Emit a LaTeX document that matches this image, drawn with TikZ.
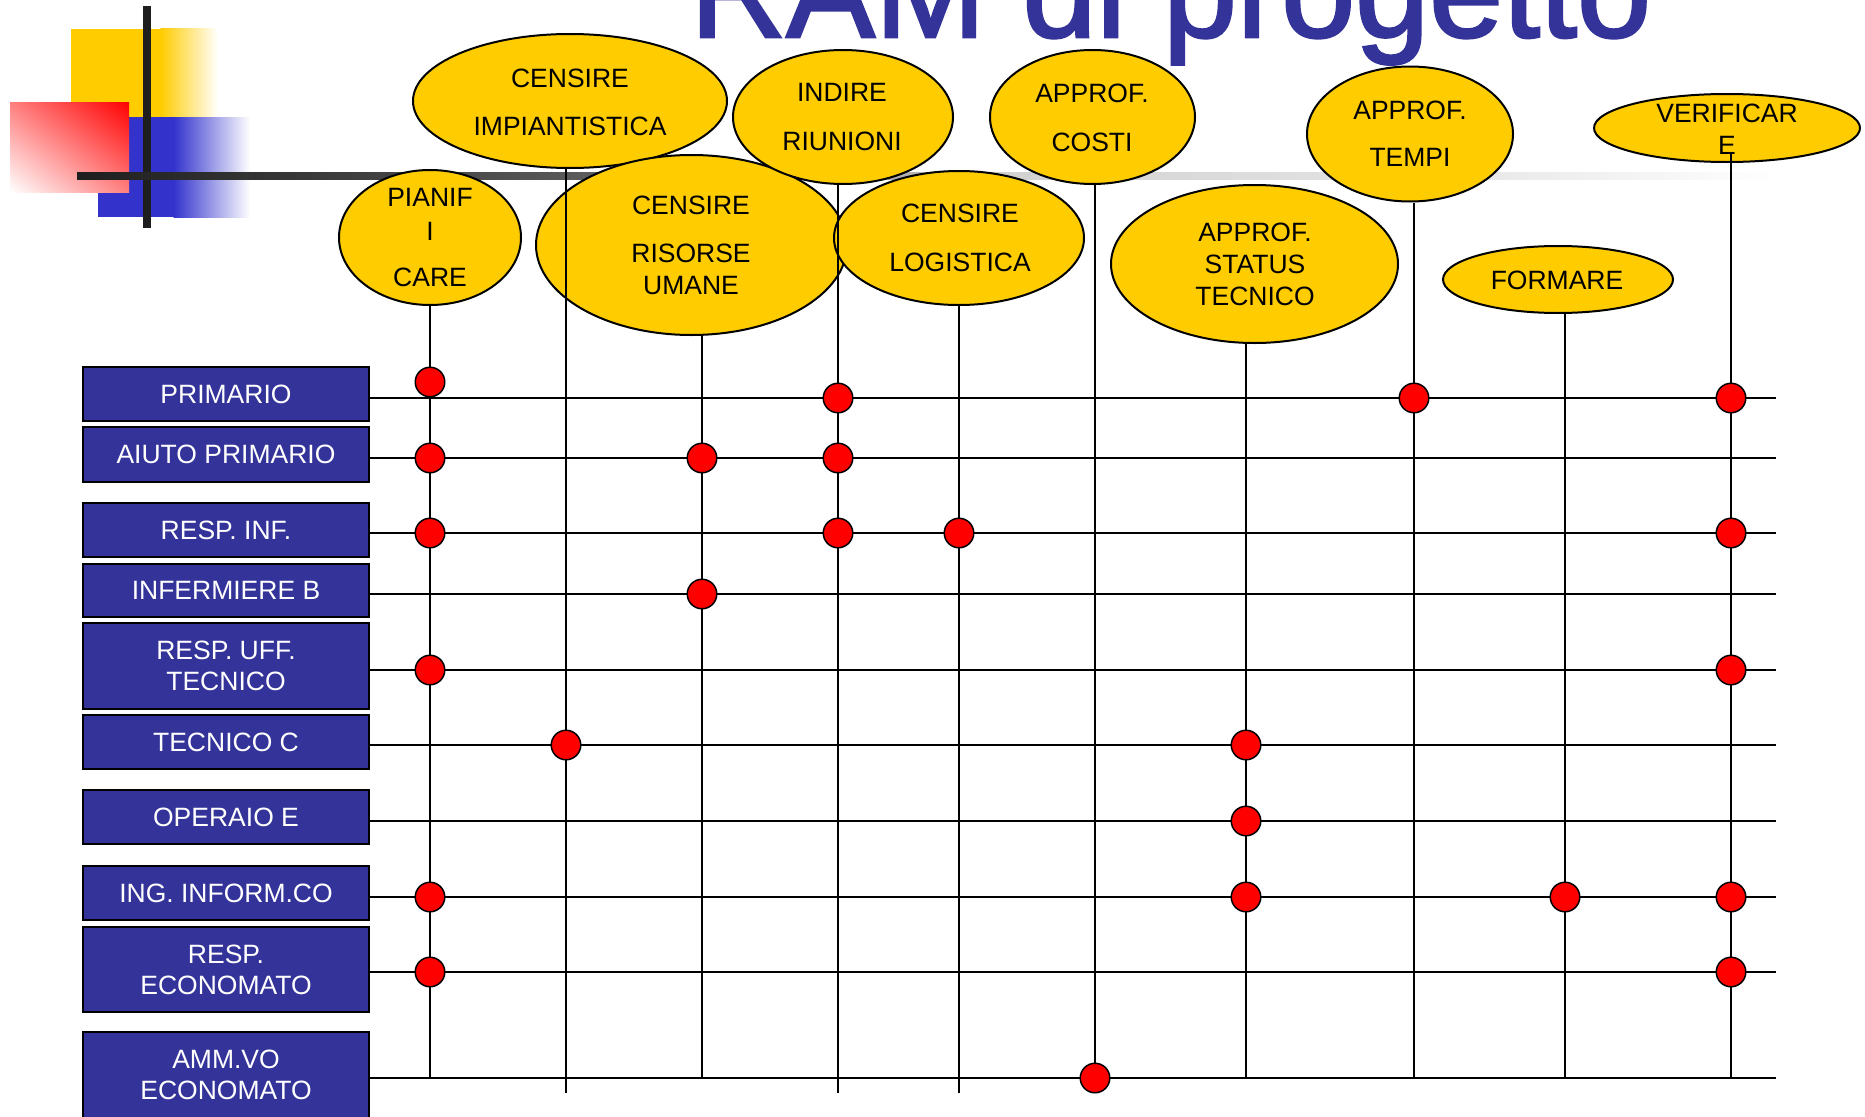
\documentclass[tikz,border=0pt]{standalone}
\usepackage{fontspec}
\setmainfont{Liberation Sans}
\newfontfamily\titlefont[FakeBold=2]{Liberation Sans}
\usetikzlibrary{shapes.geometric,shadings}
\definecolor{ellyellow}{HTML}{FFCC00}
\definecolor{boxblue}{HTML}{333399}
\definecolor{decoblue}{HTML}{3333CC}
\definecolor{barblack}{HTML}{1E1E1E}
\begin{document}
\begin{tikzpicture}[x=1pt,y=-1pt,
  ell/.style={ellipse, draw=black, line width=2pt, fill=ellyellow, inner sep=0pt},
  elltext/.style={align=center, font=\fontsize{26.5}{32}\selectfont, inner sep=0pt},
  rolebox/.style={draw=black, line width=2.5pt, fill=boxblue, text=white, align=center,
    font=\fontsize{26.5}{31}\selectfont, minimum width=286pt, inner sep=0pt},
  dot/.style={circle, draw=black, line width=1.5pt, fill=red, minimum size=29.5pt, inner sep=0pt},
  hline/.style={line width=2.2pt},
  vline/.style={line width=1.6pt}]
\useasboundingbox (0,0) rectangle (1865,1116);
\clip (0,0) rectangle (1865,1116);

% decoration
\fill[ellyellow] (71,29) rectangle (161,117);
\shade[left color=ellyellow, right color=white] (160.5,29) rectangle (218,117);
\fill[decoblue] (98,117) rectangle (174,217);
\shade[left color=decoblue, right color=white] (173.5,117) rectangle (250,217);
\shade[upper right=red, lower left=white, upper left=red!50!white, lower right=red!50!white] (10,102) rectangle (129,192);
\fill[barblack] (143,6) rectangle (151,228);
\shade[left color=black!88, right color=black!67] (77,172) rectangle (540,179);
\shade[left color=black!67, right color=black!55] (539.5,172) rectangle (720,179);
\shade[left color=black!55, right color=black!18] (719.5,172) rectangle (1000,179);
\shade[left color=black!18, right color=black!10] (999.5,172) rectangle (1450,179);
\shade[left color=black!10, right color=white] (1449.5,172) rectangle (1780,179);

% ellipses
\node[ell, minimum width=314pt, minimum height=134pt] (eImp) at (570,101) {};
\node[ell, minimum width=311pt, minimum height=180pt] (eRis) at (691.5,245) {};
\node[ell, minimum width=250pt, minimum height=134pt] (eLog) at (959,238) {};
\node[ell, minimum width=220pt, minimum height=134pt] (eInd) at (843,117) {};
\node[ell, minimum width=205pt, minimum height=134pt] (eCos) at (1092.5,117) {};
\node[ell, minimum width=287pt, minimum height=158pt] (eSta) at (1254.5,264) {};
\node[ell, minimum width=206pt, minimum height=135pt] (eTem) at (1410,134) {};
\node[ell, minimum width=230pt, minimum height=67pt] (eFor) at (1558,279.5) {};
\node[ell, minimum width=266pt, minimum height=68pt] (eVer) at (1727,128) {};
\node[ell, minimum width=182pt, minimum height=135pt] (ePian) at (430,237.5) {};

% ellipse texts
\node[elltext] (tImp) at (570,102) {CENSIRE\\[16pt]IMPIANTISTICA};
\node[elltext] (tPian) at (430,238) {PIANIF\\[2pt]I\\[14pt]CARE};
\node[elltext] (tRis) at (691,245) {CENSIRE\\[16pt]RISORSE\\UMANE};
\node[elltext] (tInd) at (842,117.5) {INDIRE\\[17pt]RIUNIONI};
\node[elltext] (tLog) at (960,237.5) {CENSIRE\\[17pt]LOGISTICA};
\node[elltext] (tCos) at (1092,117.5) {APPROF.\\[17pt]COSTI};
\node[elltext] (tSta) at (1255,264) {APPROF.\\STATUS\\TECNICO};
\node[elltext] (tTem) at (1410,133.5) {APPROF.\\[15pt]TEMPI};
\node[elltext] (tFor) at (1557,280) {FORMARE};
\node[elltext] (tVer) at (1727,129) {VERIFICAR\\E};

% role boxes
\node[rolebox, minimum height=54pt] (rPri) at (226,394) {PRIMARIO};
\node[rolebox, minimum height=55pt] (rAiu) at (226,454.5) {AIUTO PRIMARIO};
\node[rolebox, minimum height=54pt] (rRin) at (226,530) {RESP. INF.};
\node[rolebox, minimum height=53pt] (rInf) at (226,590.5) {INFERMIERE B};
\node[rolebox, minimum height=86pt] (rRut) at (226,666) {RESP. UFF.\\TECNICO};
\node[rolebox, minimum height=54pt] (rTec) at (226,742) {TECNICO C};
\node[rolebox, minimum height=54pt] (rOpe) at (226,817) {OPERAIO E};
\node[rolebox, minimum height=54pt] (rIng) at (226,893) {ING. INFORM.CO};
\node[rolebox, minimum height=85pt] (rEco) at (226,969.5) {RESP.\\ECONOMATO};
\node[rolebox, minimum height=86pt] (rAmm) at (226,1075) {AMM.VO\\ECONOMATO};

% column bottom ends
\coordinate (bPian) at (430,1078);
\coordinate (bImp) at (566,1093);
\coordinate (bRis) at (702,1078);
\coordinate (bInd) at (838,1093);
\coordinate (bLog) at (959,1093);
\coordinate (bCos) at (1095,1078);
\coordinate (bSta) at (1246,1078);
\coordinate (bTem) at (1414,1078);
\coordinate (bFor) at (1565,1078);
\coordinate (bVer) at (1731,1078);

% row right ends
\coordinate (hPri) at (1776,398);
\coordinate (hAiu) at (1776,458);
\coordinate (hRin) at (1776,533);
\coordinate (hInf) at (1776,594);
\coordinate (hRut) at (1776,670);
\coordinate (hTec) at (1776,745);
\coordinate (hOpe) at (1776,821);
\coordinate (hIng) at (1776,897);
\coordinate (hEco) at (1776,972);
\coordinate (hAmm) at (1776,1078);

% vertical lines
\draw[vline] (ePian.south -| bPian) -- (bPian);
\draw[vline] (eImp.south -| bImp) -- (bImp);
\draw[vline] (eRis.south -| bRis) -- (bRis);
\draw[vline] (eInd.south -| bInd) -- (bInd);
\draw[vline] (eLog.south -| bLog) -- (bLog);
\draw[vline] (eCos.south -| bCos) -- (bCos);
\draw[vline] (eSta.south -| bSta) -- (bSta);
\draw[vline] (eTem.south -| bTem) -- (bTem);
\draw[vline] (eFor.south -| bFor) -- (bFor);
\draw[vline] (tVer.south -| bVer) -- (bVer);

% horizontal lines
\draw[hline] (rPri.east |- hPri) -- (hPri);
\draw[hline] (rAiu.east |- hAiu) -- (hAiu);
\draw[hline] (rRin.east |- hRin) -- (hRin);
\draw[hline] (rInf.east |- hInf) -- (hInf);
\draw[hline] (rRut.east |- hRut) -- (hRut);
\draw[hline] (rTec.east |- hTec) -- (hTec);
\draw[hline] (rOpe.east |- hOpe) -- (hOpe);
\draw[hline] (rIng.east |- hIng) -- (hIng);
\draw[hline] (rEco.east |- hEco) -- (hEco);
\draw[hline] (rAmm.east |- hAmm) -- (hAmm);

% dots
\node[dot] (dPriPian) at (430,382) {};
\node[dot] (dPriInd) at (bInd |- hPri) {};
\node[dot] (dPriTem) at (bTem |- hPri) {};
\node[dot] (dPriVer) at (bVer |- hPri) {};
\node[dot] (dAiuPian) at (bPian |- hAiu) {};
\node[dot] (dAiuRis) at (bRis |- hAiu) {};
\node[dot] (dAiuInd) at (bInd |- hAiu) {};
\node[dot] (dRinPian) at (bPian |- hRin) {};
\node[dot] (dRinInd) at (bInd |- hRin) {};
\node[dot] (dRinLog) at (bLog |- hRin) {};
\node[dot] (dRinVer) at (bVer |- hRin) {};
\node[dot] (dInfRis) at (bRis |- hInf) {};
\node[dot] (dRutPian) at (bPian |- hRut) {};
\node[dot] (dRutVer) at (bVer |- hRut) {};
\node[dot] (dTecImp) at (bImp |- hTec) {};
\node[dot] (dTecSta) at (bSta |- hTec) {};
\node[dot] (dOpeSta) at (bSta |- hOpe) {};
\node[dot] (dIngPian) at (bPian |- hIng) {};
\node[dot] (dIngSta) at (bSta |- hIng) {};
\node[dot] (dIngFor) at (bFor |- hIng) {};
\node[dot] (dIngVer) at (bVer |- hIng) {};
\node[dot] (dEcoPian) at (bPian |- hEco) {};
\node[dot] (dEcoVer) at (bVer |- hEco) {};
\node[dot] (dAmmCos) at (bCos |- hAmm) {};

% title
\node[anchor=base west, inner sep=0pt, text=boxblue, font=\titlefont\fontsize{133}{150}\selectfont] (title) at (690,37) {RAM di progetto};
\end{tikzpicture}
\end{document}
